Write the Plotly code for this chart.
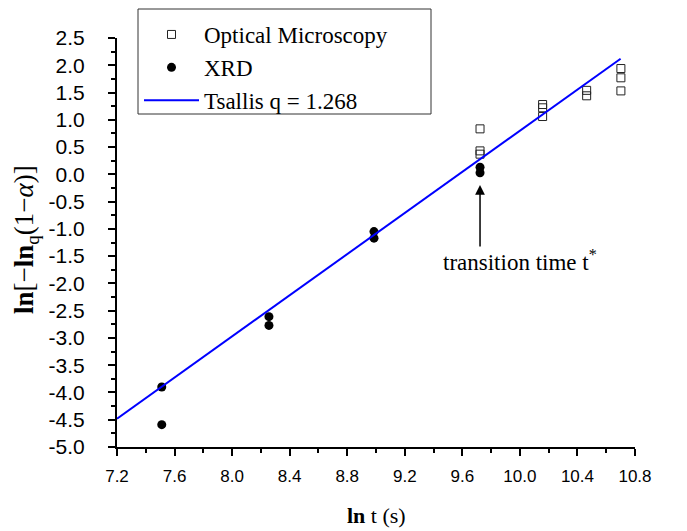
import plotly.graph_objects as go

# Optical microscopy (open squares)
om_x = [9.723, 9.723, 9.723, 10.158, 10.158, 10.158, 10.464, 10.464, 10.702, 10.702, 10.702]
om_y = [0.834, 0.43, 0.37, 1.28, 1.22, 1.06, 1.54, 1.44, 1.94, 1.77, 1.53]

# XRD (filled circles)
xrd_x = [7.511, 7.511, 8.256, 8.256, 8.986, 8.986, 9.723, 9.723]
xrd_y = [-3.90, -4.59, -2.61, -2.77, -1.05, -1.17, 0.13, 0.03]

# Tsallis fit line
fit_x = [7.2, 10.70]
fit_y = [-4.48, 2.12]

x_ticks = [7.2, 7.6, 8.0, 8.4, 8.8, 9.2, 9.6, 10.0, 10.4, 10.8]
x_ticktext = ["7.2", "7.6", "8.0", "8.4", "8.8", "9.2", "9.6", "10.0", "10.4", "10.8"]
y_ticks = [2.5, 2.0, 1.5, 1.0, 0.5, 0.0, -0.5, -1.0, -1.5, -2.0, -2.5, -3.0, -3.5, -4.0, -4.5, -5.0]
y_ticktext = ["2.5", "2.0", "1.5", "1.0", "0.5", "0.0", "-0.5", "-1.0", "-1.5", "-2.0",
              "-2.5", "-3.0", "-3.5", "-4.0", "-4.5", "-5.0"]

serif = "Liberation Serif, Times New Roman, serif"
sans = "Liberation Sans, Arial, sans-serif"

fig = go.Figure()
fig.add_trace(go.Scatter(x=om_x, y=om_y, mode="markers", name="Optical Microscopy",
                         marker=dict(symbol="square-open", size=8, color="#222",
                                     line=dict(width=1, color="#222"))))
fig.add_trace(go.Scatter(x=xrd_x, y=xrd_y, mode="markers", name="XRD",
                         marker=dict(symbol="circle", size=9, color="black")))
fig.add_trace(go.Scatter(x=fit_x, y=fit_y, mode="lines", name="Tsallis q = 1.268",
                         line=dict(color="#0000ff", width=2)))

W, H = 687, 531
L, R, T, B = 117, 52, 38, 84
pw, ph = W - L - R, H - T - B


def px(xp):
    return (xp - L) / pw


def py(yp):
    return (T + ph - yp) / ph


axis_common = dict(showline=True, linecolor="black", linewidth=2, ticks="outside",
                   ticklen=7, tickwidth=1.5, tickcolor="black", showgrid=False,
                   zeroline=False, mirror=False)

fig.update_xaxes(range=[7.2, 10.8], tickvals=x_ticks, ticktext=x_ticktext,
                 minor=dict(dtick=0.2, tick0=7.2, ticklen=4, tickwidth=1.5,
                            tickcolor="black", ticks="outside"),
                 tickfont=dict(family=sans, size=17, color="black"),
                 ticklabelstandoff=6, **axis_common)
fig.update_yaxes(range=[-5.0, 2.5], tickvals=y_ticks, ticktext=y_ticktext,
                 minor=dict(dtick=0.25, tick0=-5.0, ticklen=4, tickwidth=1.5,
                            tickcolor="black", ticks="outside"),
                 tickfont=dict(family=sans, size=21, color="black"),
                 ticklabelstandoff=19, **axis_common)

fig.update_layout(
    width=W, height=H, margin=dict(l=L, r=R, t=T, b=B, autoexpand=False),
    plot_bgcolor="white", paper_bgcolor="white",
    legend=dict(x=px(139), y=py(13), xanchor="left", yanchor="top",
                bgcolor="rgba(0,0,0,0)", borderwidth=0, itemwidth=55,
                tracegroupgap=0,
                font=dict(family=serif, size=23, color="black")),
    shapes=[dict(type="rect", xref="paper", yref="paper",
                 x0=px(138), x1=px(431), y0=py(114), y1=py(9),
                 line=dict(color="#333", width=1), fillcolor="rgba(0,0,0,0)")],
    annotations=[
        dict(x=9.723, y=-0.194, ax=9.723, ay=-1.351, axref="x", ayref="y",
             xref="x", yref="y", text="", showarrow=True, arrowhead=2,
             arrowsize=1.3, arrowwidth=1.5, arrowcolor="black", standoff=0),
        dict(x=px(520), y=py(260), xref="paper", yref="paper", showarrow=False,
             text="transition time t<sup>*</sup>", xanchor="center", yanchor="middle",
             font=dict(family=serif, size=23, color="black")),
        dict(x=px(376), y=py(515), xref="paper", yref="paper", showarrow=False,
             text="<b>ln</b> t (s)", xanchor="center", yanchor="middle",
             font=dict(family=serif, size=22, color="black")),
        dict(x=px(26), y=py(240), xref="paper", yref="paper", showarrow=False,
             text="<b>ln</b>[−<b>ln</b><sub>q</sub>(1−<i>α</i>)]", textangle=-90,
             xanchor="center", yanchor="middle",
             font=dict(family=serif, size=27, color="black")),
    ],
)

fig.write_html("out.html")
